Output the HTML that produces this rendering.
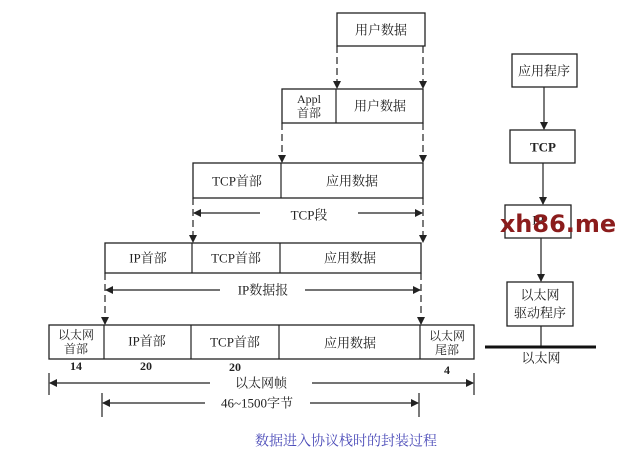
<!DOCTYPE html>
<html><head><meta charset="utf-8"><style>
body{margin:0;background:#fff;}
svg{display:block;}
text{font-family:"Liberation Serif","Noto Serif CJK SC",serif;font-size:13px;fill:#222;text-anchor:middle;dominant-baseline:central;}
.b{fill:none;stroke:#222;stroke-width:1.3;}
.d{stroke:#222;stroke-width:1.2;stroke-dasharray:7,4;fill:none;}
.l{stroke:#222;stroke-width:1.2;fill:none;}
</style></head><body>
<svg width="640" height="466" viewBox="0 0 640 466">
<defs><marker id="a" markerWidth="8" markerHeight="10" refX="7" refY="5" orient="auto" markerUnits="userSpaceOnUse"><path d="M0,1 L8,5 L0,9 Z" fill="#222"/></marker></defs>
<!-- top -->
<rect class="b" x="337" y="13" width="88" height="33"/><text x="381" y="30">用户数据</text>
<line class="d" x1="337" y1="46" x2="337" y2="88" marker-end="url(#a)"/>
<line class="d" x1="423" y1="46" x2="423" y2="88" marker-end="url(#a)"/>
<!-- appl -->
<rect class="b" x="282" y="89" width="141" height="34"/><line class="l" x1="336" y1="89" x2="336" y2="123"/>
<text x="309" y="99" style="font-size:12px">Appl</text><text x="309" y="113" style="font-size:12px">首部</text>
<text x="380" y="106">用户数据</text>
<line class="d" x1="282" y1="123" x2="282" y2="162" marker-end="url(#a)"/>
<line class="d" x1="423" y1="123" x2="423" y2="162" marker-end="url(#a)"/>
<!-- tcp -->
<rect class="b" x="193" y="163" width="230" height="35"/><line class="l" x1="281" y1="163" x2="281" y2="198"/>
<text x="237" y="181">TCP首部</text><text x="352" y="181">应用数据</text>
<line class="l" x1="260" y1="213" x2="194" y2="213" marker-end="url(#a)"/>
<line class="l" x1="358" y1="213" x2="422" y2="213" marker-end="url(#a)"/>
<text x="309" y="215">TCP段</text>
<line class="d" x1="193" y1="198" x2="193" y2="242" marker-end="url(#a)"/>
<line class="d" x1="423" y1="198" x2="423" y2="242" marker-end="url(#a)"/>
<!-- ip -->
<rect class="b" x="105" y="243" width="316" height="30"/><line class="l" x1="192" y1="243" x2="192" y2="273"/><line class="l" x1="280" y1="243" x2="280" y2="273"/>
<text x="148" y="258">IP首部</text><text x="236" y="258">TCP首部</text><text x="350" y="258">应用数据</text>
<line class="l" x1="220" y1="290" x2="106" y2="290" marker-end="url(#a)"/>
<line class="l" x1="305" y1="290" x2="420" y2="290" marker-end="url(#a)"/>
<text x="263" y="290">IP数据报</text>
<line class="d" x1="105" y1="273" x2="105" y2="324" marker-end="url(#a)"/>
<line class="d" x1="421" y1="273" x2="421" y2="324" marker-end="url(#a)"/>
<!-- eth -->
<rect class="b" x="49" y="325" width="425" height="34"/>
<line class="l" x1="104" y1="325" x2="104" y2="359"/><line class="l" x1="191" y1="325" x2="191" y2="359"/><line class="l" x1="279" y1="325" x2="279" y2="359"/><line class="l" x1="420" y1="325" x2="420" y2="359"/>
<text x="76" y="335" style="font-size:12px">以太网</text><text x="76" y="349" style="font-size:12px">首部</text>
<text x="147" y="341">IP首部</text><text x="235" y="342">TCP首部</text><text x="350" y="343">应用数据</text>
<text x="447" y="336" style="font-size:12px">以太网</text><text x="447" y="350" style="font-size:12px">尾部</text>
<text x="76" y="366" style="font-size:12px;font-weight:bold">14</text>
<text x="146" y="366" style="font-size:12px;font-weight:bold">20</text>
<text x="235" y="367" style="font-size:12px;font-weight:bold">20</text>
<text x="447" y="370" style="font-size:12px;font-weight:bold">4</text>
<line class="l" x1="49" y1="373" x2="49" y2="395"/><line class="l" x1="474" y1="373" x2="474" y2="395"/>
<line class="l" x1="210" y1="383" x2="50" y2="383" marker-end="url(#a)"/>
<line class="l" x1="312" y1="383" x2="473" y2="383" marker-end="url(#a)"/>
<text x="261" y="383">以太网帧</text>
<line class="l" x1="102" y1="393" x2="102" y2="417"/><line class="l" x1="419" y1="393" x2="419" y2="417"/>
<line class="l" x1="205" y1="403" x2="103" y2="403" marker-end="url(#a)"/>
<line class="l" x1="310" y1="403" x2="418" y2="403" marker-end="url(#a)"/>
<text x="257" y="403">46~1500字节</text>
<text x="346" y="442" style="fill:#4a4ab8;font-size:14px">数据进入协议栈时的封装过程</text>
<!-- right -->
<rect class="b" x="512" y="54" width="65" height="33"/><text x="544" y="71">应用程序</text>
<line class="l" x1="544" y1="87" x2="544" y2="129" marker-end="url(#a)"/>
<rect class="b" x="510" y="130" width="65" height="33"/><text x="543" y="147" style="font-weight:bold">TCP</text>
<line class="l" x1="543" y1="163" x2="543" y2="204" marker-end="url(#a)"/>
<rect class="b" x="505" y="205" width="66" height="33"/><text x="538" y="220">IP</text>
<line class="l" x1="541" y1="238" x2="541" y2="281" marker-end="url(#a)"/>
<rect class="b" x="507" y="282" width="66" height="44"/><text x="540" y="295">以太网</text><text x="540" y="313">驱动程序</text>
<line class="l" x1="541" y1="326" x2="541" y2="347"/>
<line x1="485" y1="347" x2="596" y2="347" stroke="#111" stroke-width="3"/>
<text x="541" y="358">以太网</text>
<text x="558" y="224" style="font-family:'DejaVu Sans',sans-serif;font-size:24px;font-weight:bold;fill:#8b1c1c">xh86.me</text>
</svg>
</body></html>
